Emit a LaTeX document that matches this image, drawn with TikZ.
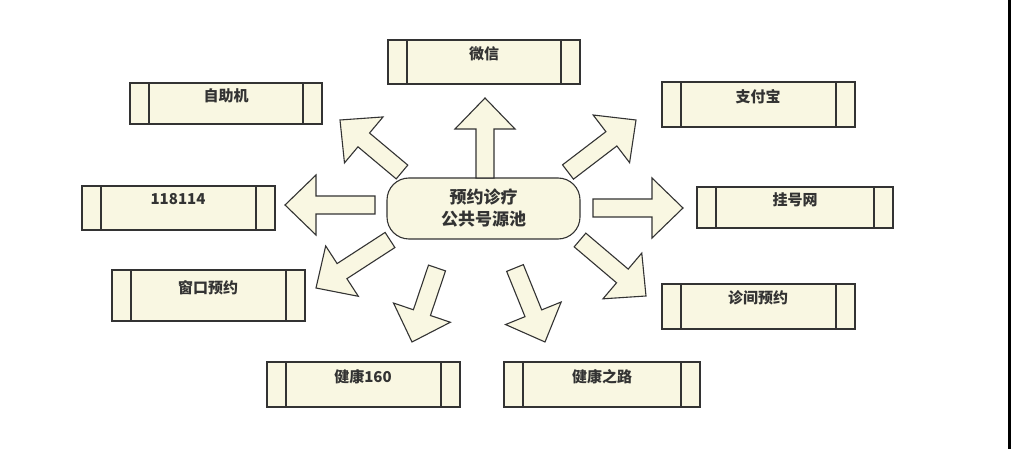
\documentclass[tikz,border=0pt]{standalone}
\usepackage{fontspec}
\newfontfamily\cjk{Noto Sans CJK SC}
\usetikzlibrary{calc}
\definecolor{cream}{HTML}{F9F7E2}
\tikzset{
 boxst/.style={draw=black!80,line width=1.1pt,fill=cream},
 lbl/.style={font=\cjk\bfseries\fontsize{15}{17}\selectfont,text=black!80},
 arr/.style={draw=black!80,line width=1.1pt,fill=cream,line join=miter}
}
\newcommand\bx[5]{% name, l,t,r,b
 \draw[boxst] (#2,#3) rectangle (#4,#5);
 \draw[black!80,line width=1.1pt] (#2+19,#3) -- (#2+19,#5) (#4-19,#3) -- (#4-19,#5);
 \coordinate (#1) at ({(#2+#4)/2},{(#3+#5)/2});
}
\newcommand\barrow[2]{%
 \coordinate (H) at ($(#2)!31pt!(#1)$);
 \draw[arr] ($(#1)!9pt!90:(#2)$) -- ($(H)!9pt!90:(#2)$) -- ($(H)!30pt!90:(#2)$) -- (#2)
 -- ($(H)!30pt!-90:(#2)$) -- ($(H)!9pt!-90:(#2)$) -- ($(#1)!9pt!-90:(#2)$) -- cycle;}
\begin{document}
\begin{tikzpicture}[x=1pt,y=-1pt]
\fill[white] (0,0) rectangle (1012,449);
\useasboundingbox (0,0) rectangle (1012,449);
\draw[black,line width=3pt] (1009,0) -- (1009,449);
\bx{wx}{388}{40}{580}{84}
\bx{zz}{130}{83}{322}{124}
\bx{zf}{662}{82}{855}{127}
\bx{yy}{82}{186}{275}{230}
\bx{gh}{697}{187}{893}{228}
\bx{ck}{112}{270}{305}{321}
\bx{zj}{662}{284}{855}{329}
\bx{jk}{267}{362}{460}{407}
\bx{jl}{504}{362}{700}{407}
\node[lbl] at (484,54) {微信};
\node[lbl] at (226,96) {自助机};
\node[lbl] at (758,97) {支付宝};
\node[lbl] at (178,199) {118114};
\node[lbl] at (795,200) {挂号网};
\node[lbl] at (208,288) {窗口预约};
\node[lbl] at (758,298) {诊间预约};
\node[lbl] at (363,377) {健康160};
\node[lbl] at (602,377) {健康之路};
\node[draw=black!80,line width=1.1pt,fill=cream,rounded corners=22pt,minimum width=193pt,minimum height=61pt,align=center,
 font=\cjk\bfseries\fontsize{17}{22}\selectfont,text=black!80] (c) at (483.5,208.5) {预约诊疗\\公共号源池};
\coordinate (t1) at (485,178); \coordinate (p1) at (485,98);
\coordinate (t2) at (402,172); \coordinate (p2) at (340,120);
\coordinate (t3) at (568,172); \coordinate (p3) at (636,120);
\coordinate (t4) at (375,205); \coordinate (p4) at (285,205);
\coordinate (t5) at (593,208); \coordinate (p5) at (683,208);
\coordinate (t6) at (390,240); \coordinate (p6) at (316,288);
\coordinate (t7) at (580,240); \coordinate (p7) at (646,296);
\coordinate (t8) at (437,268); \coordinate (p8) at (412,342);
\coordinate (t9) at (515,268); \coordinate (p9) at (545,342);
\barrow{t1}{p1}\barrow{t2}{p2}\barrow{t3}{p3}\barrow{t4}{p4}\barrow{t5}{p5}
\barrow{t6}{p6}\barrow{t7}{p7}\barrow{t8}{p8}\barrow{t9}{p9}
\end{tikzpicture}
\end{document}
